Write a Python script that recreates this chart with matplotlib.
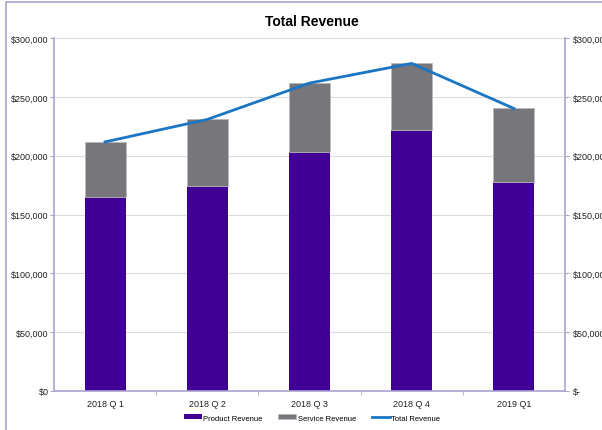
import matplotlib.pyplot as plt
from matplotlib.patches import Rectangle
from matplotlib.ticker import FuncFormatter
import numpy as np

plt.rcParams["font.family"] = ["Liberation Sans", "DejaVu Sans"]

quarters = ["2018 Q 1", "2018 Q 2", "2018 Q 3", "2018 Q 4", "2019 Q1"]
product_revenue = [164800, 174500, 203400, 221400, 177600]
service_revenue = [46900, 56300, 58300, 57000, 62500]
total_revenue = [211700, 230800, 261700, 278400, 240100]

PURPLE = "#400094"
GRAY = "#77767b"
BLUE = "#1a76c4"
FRAME = "#a9a3d0"

fig = plt.figure(figsize=(6.02, 4.31), dpi=100)
ax = fig.add_axes([54 / 602, 39 / 431, 511 / 602, 353 / 431])

x = np.arange(len(quarters))
b1 = ax.bar(x, product_revenue, width=0.4, color=PURPLE, label="Product Revenue", zorder=2)
b2 = ax.bar(x, service_revenue, width=0.4, bottom=product_revenue, color=GRAY,
            edgecolor="#b8b8bc", linewidth=0.6, label="Service Revenue", zorder=2)
ln, = ax.plot(x, total_revenue, color=BLUE, lw=2, label="Total Revenue", zorder=3)

ax.set_xlim(-0.5, len(quarters) - 0.5)
ax.set_ylim(0, 300000)
ax.set_yticks(np.arange(0, 300001, 50000))
ax.yaxis.set_major_formatter(FuncFormatter(lambda v, p: f"${v:,.0f}"))
ax.grid(axis="y", color="#dcdcdc", lw=0.8, zorder=0)
ax.set_axisbelow(True)

ax.set_xticks(x)
ax.set_xticklabels(quarters)
ax.set_xticks(np.arange(0.5, len(quarters) - 0.5), minor=True)
ax.tick_params(axis="x", which="major", length=0, labelsize=6.5, pad=6, labelcolor="#222222")
ax.tick_params(axis="x", which="minor", length=3, color=FRAME, direction="out")
ax.tick_params(axis="y", length=3, color=FRAME, labelsize=6.5, pad=1, labelcolor="#222222")

for s in ["top", "right"]:
    ax.spines[s].set_visible(False)
for s in ["left", "bottom"]:
    ax.spines[s].set_color(FRAME)
    ax.spines[s].set_linewidth(1.2)

ax2 = ax.twinx()
ax2.set_ylim(0, 300000)
ax2.set_yticks(np.arange(0, 300001, 50000))
ax2.yaxis.set_major_formatter(
    FuncFormatter(lambda v, p: "$-" if v == 0 else f"${v:,.0f}"))
ax2.tick_params(axis="y", length=3, color=FRAME, labelsize=6.5, pad=3, labelcolor="#222222")
for s in ["top", "left", "bottom"]:
    ax2.spines[s].set_visible(False)
ax2.spines["right"].set_color(FRAME)
ax2.spines["right"].set_linewidth(1.2)

fig.text(312 / 602, 1 - 22 / 431, "Total Revenue", ha="center", va="center",
         fontsize=10, fontweight="bold")

fig.legend(handles=[b1, b2, ln], loc="center", bbox_to_anchor=(312 / 602, 12 / 431), ncol=3,
           frameon=False, fontsize=5.5, handlelength=2.4, handleheight=0.6,
           columnspacing=2.0, handletextpad=0.2)

fig.patches.append(Rectangle((5.7 / 602, -0.05), 1.1, 1 - 3.3 / 431 + 0.05,
                             transform=fig.transFigure, fill=False,
                             edgecolor=FRAME, lw=1.2, zorder=0))

plt.savefig("out.png", dpi=100)
